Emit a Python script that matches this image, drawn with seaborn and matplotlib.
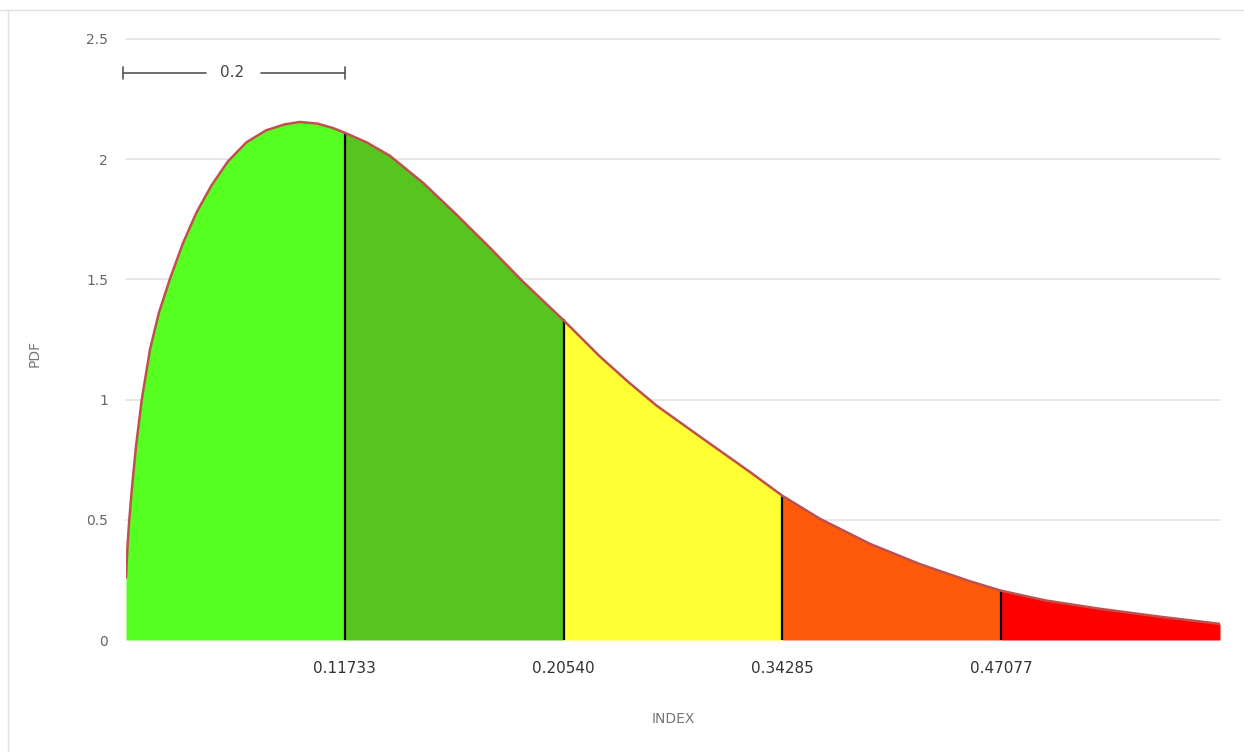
import numpy as np
import pandas as pd
import matplotlib
matplotlib.use("Agg")
import matplotlib.pyplot as plt
from matplotlib.lines import Line2D
import seaborn as sns

# curve: position along the index axis (0..1) and pdf value
index_pos = [0.000, 0.0015, 0.003, 0.0052, 0.009, 0.0144, 0.022, 0.030, 0.040, 0.052,
             0.0646, 0.078, 0.093, 0.110, 0.128, 0.145, 0.159, 0.175, 0.189, 0.200,
             0.220, 0.241, 0.272, 0.302, 0.333, 0.363, 0.400, 0.433, 0.460, 0.485,
             0.525, 0.570, 0.600, 0.634, 0.680, 0.726, 0.771, 0.800, 0.840, 0.890,
             0.945, 1.000]
pdf_vals = [0.26, 0.40, 0.50, 0.62, 0.80, 1.00, 1.21, 1.36, 1.50, 1.65,
            1.78, 1.89, 1.99, 2.07, 2.12, 2.145, 2.155, 2.148, 2.13, 2.11,
            2.07, 2.015, 1.90, 1.77, 1.63, 1.49, 1.33, 1.18, 1.07, 0.975,
            0.845, 0.70, 0.60, 0.505, 0.40, 0.315, 0.245, 0.205, 0.165, 0.13,
            0.097, 0.067]

# segment boundaries and their labels
bounds = [0.0, 0.2, 0.4, 0.6, 0.8, 1.0]
tick_labels = ["0.11733", "0.20540", "0.34285", "0.47077"]
seg_colors = ["#55ff1f", "#57c41f", "#ffff33", "#ff5a0a", "#ff0000"]

df = pd.DataFrame({"INDEX": index_pos, "PDF": pdf_vals})

sns.set_style("white")
plt.rcParams['font.family'] = ['DejaVu Sans']

fig = plt.figure(figsize=(12.44, 7.52), dpi=100)
ax = fig.add_axes([126/1244, 1 - 640/752, 1094/1244, 601/752])

# gridlines
for g in [0.5, 1.0, 1.5, 2.0, 2.5]:
    ax.axhline(g, color="#e3e3e3", lw=1.2, zorder=0, clip_on=False)

# coloured segments under the curve
for i in range(5):
    lo, hi = bounds[i], bounds[i+1]
    part = df[(df["INDEX"] >= lo) & (df["INDEX"] <= hi)]
    ax.fill_between(part["INDEX"], 0, part["PDF"], color=seg_colors[i], lw=0, zorder=1)

# black separators
for b in bounds[1:-1]:
    yv = df.loc[df["INDEX"] == b, "PDF"].iloc[0]
    ax.plot([b, b], [0, yv], color="black", lw=1.6, zorder=2)

sns.lineplot(data=df, x="INDEX", y="PDF", color="#c0504d", lw=1.8, ax=ax, zorder=3)

ax.set_xlim(0, 1)
ax.set_ylim(0, 2.5)
ax.set_yticks([0, 0.5, 1, 1.5, 2, 2.5])
ax.set_yticklabels(["0", "0.5", "1", "1.5", "2", "2.5"], color="#666666", fontsize=10)
ax.set_xticks(bounds[1:-1])
ax.set_xticklabels(tick_labels, color="#333333", fontsize=11)
ax.tick_params(axis="y", length=0, pad=13)
ax.tick_params(axis="x", length=0, pad=15)
for s in ax.spines.values():
    s.set_visible(False)

ax.set_xlabel("INDEX", color="#777777", fontsize=10, labelpad=26)
ax.set_ylabel("PDF", color="#777777", fontsize=10)
ax.yaxis.set_label_coords(-0.077, 0.476)

# scale bar
sy = 2.36
ax.plot([-0.003, 0.073], [sy, sy], color="#555555", lw=1.2, clip_on=False)
ax.plot([0.123, 0.200], [sy, sy], color="#555555", lw=1.2, clip_on=False)
ax.plot([-0.003, -0.003], [sy - 0.025, sy + 0.025], color="#555555", lw=1.2, clip_on=False)
ax.plot([0.200, 0.200], [sy - 0.025, sy + 0.025], color="#555555", lw=1.2, clip_on=False)
ax.text(0.097, sy, "0.2", ha="center", va="center", fontsize=11, color="#444444")

# faint frame at top and left
fig.add_artist(Line2D([0, 1], [1 - 10/752, 1 - 10/752], color="#e0e0e0", lw=1))
fig.add_artist(Line2D([8/1244, 8/1244], [0, 1 - 10/752], color="#e0e0e0", lw=1))

fig.savefig("out.png", dpi=100)
